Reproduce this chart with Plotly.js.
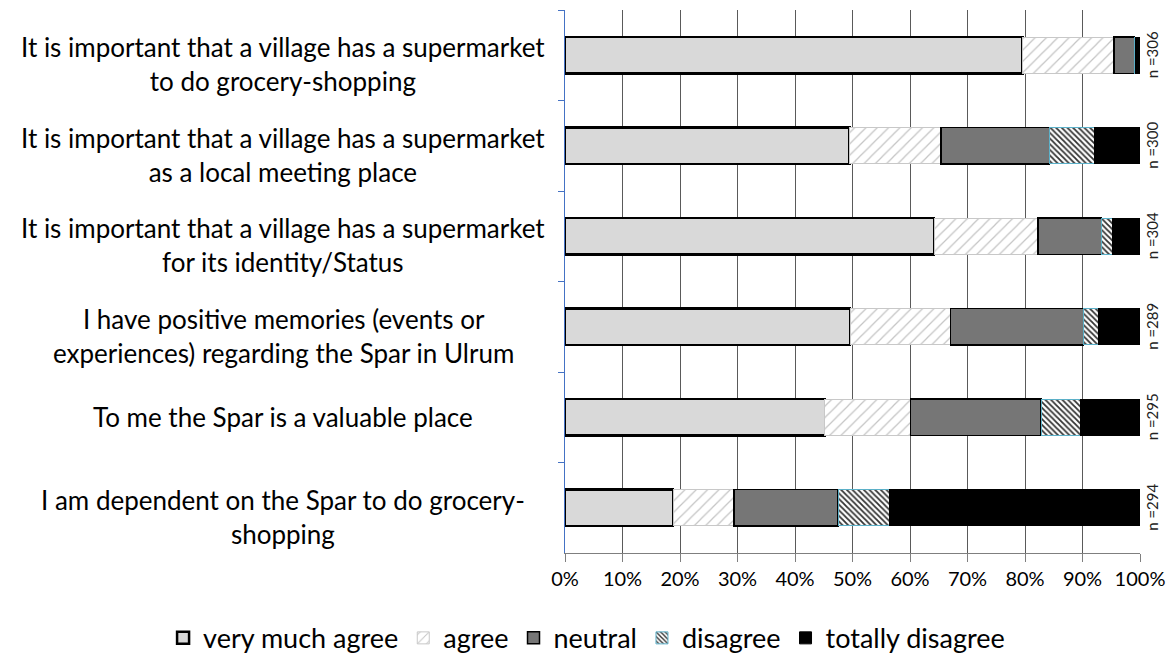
<!DOCTYPE html>
<html><head><meta charset="utf-8">
<script src="https://cdn.plot.ly/plotly-3.0.1.min.js"></script>
<style>html,body{margin:0;padding:0;background:#fff}#chart{width:1168px;height:655px}</style>
</head><body><div id="chart"></div>
<script>
const categories = [
  "It is important that a village has a supermarket<br>to do grocery-shopping",
  "It is important that a village has a supermarket<br>as a local meeting place",
  "It is important that a village has a supermarket<br>for its identity/Status",
  "I have positive memories (events or<br>experiences) regarding the Spar in Ulrum",
  "To me the Spar is a valuable place",
  "I am dependent on the Spar to do grocery-<br>shopping"
];
const sampleSizes = [306, 300, 304, 289, 295, 294];
const veryMuchAgree   = [79.6, 49.5, 64.2, 49.6, 45.2, 18.8];
const agree           = [15.9, 15.9, 18.1, 17.4, 14.9, 10.6];
const neutral         = [3.5, 18.9, 11.0, 23.2, 22.7, 18.1];
const disagree        = [0.3, 7.7, 2.0, 2.5, 6.9, 9.0];
const totallyDisagree = [0.7, 8.0, 4.7, 7.3, 10.3, 43.5];
const xTickVals = [0, 10, 20, 30, 40, 50, 60, 70, 80, 90, 100];
const seriesNames = ["very much agree", "agree", "neutral", "disagree", "totally disagree"];

const FONT = "Lato, 'Open Sans', sans-serif";
const styles = [
  {marker: {color: "#d9d9d9", line: {color: "#000", width: 2.5}}},
  {marker: {color: "#ffffff", pattern: {shape: "/", fgcolor: "#c4c4c4", bgcolor: "#ffffff", size: 8, solidity: 0.15}, line: {color: "#c8c8c8", width: 1}}},
  {marker: {color: "#767676", line: {color: "#000", width: 1.5}}},
  {marker: {color: "#ffffff", pattern: {shape: "\\", fgcolor: "#333333", bgcolor: "#ffffff", size: 4, solidity: 0.45}, line: {color: "#5bb0c8", width: 1}}},
  {marker: {color: "#000000", line: {color: "#000", width: 1}}}
];
const seriesValues = [veryMuchAgree, agree, neutral, disagree, totallyDisagree];

const traces = seriesValues.map((vals, i) => ({
  type: "bar", orientation: "h",
  name: seriesNames[i],
  x: vals, y: categories,
  marker: styles[i].marker,
  hoverinfo: "skip"
}));

const annotations = [];
categories.forEach((c, i) => {
  const lines = c.split("<br>").length;
  annotations.push({
    xref: "paper", yref: "y", x: -0.49, y: c,
    xanchor: "center", yanchor: "middle", align: "center",
    text: c, showarrow: false, yshift: lines > 1 ? -9 : 0,
    font: {family: FONT, size: 26, color: "#000"}
  });
  annotations.push({
    xref: "paper", yref: "y", x: 1.021, y: c,
    xanchor: "center", yanchor: "middle",
    text: "n =" + sampleSizes[i], textangle: -90, showarrow: false,
    font: {family: FONT, size: 15, color: "#222"}
  });
});

const layout = {
  width: 1168, height: 655,
  margin: {l: 565, r: 28, t: 10, b: 102, autoexpand: false},
  paper_bgcolor: "#fff", plot_bgcolor: "#fff",
  barmode: "stack", bargap: 0.6,
  showlegend: true,
  legend: {orientation: "h", x: -0.699, xanchor: "left", y: -0.112, yanchor: "top",
           font: {family: FONT, size: 27, color: "#000"}, traceorder: "normal"},
  xaxis: {range: [0, 100], tickvals: xTickVals, ticktext: xTickVals.map(v => v + "%"),
          showgrid: true, gridcolor: "#5a5a5a", gridwidth: 1, zeroline: false,
          showline: true, linecolor: "#7f7f7f", linewidth: 1,
          ticks: "outside", ticklen: 8, tickcolor: "#7f7f7f",
          tickfont: {family: FONT, size: 20, color: "#000"}, fixedrange: true},
  yaxis: {type: "category", categoryorder: "array", categoryarray: categories,
          autorange: "reversed", showticklabels: false, showgrid: false, zeroline: false,
          tickson: "boundaries", ticks: "outside", ticklen: 6, tickcolor: "#4472c4",
          showline: true, linecolor: "#4472c4", linewidth: 1.5, fixedrange: true},
  annotations: annotations
};

Plotly.newPlot("chart", traces, layout, {staticPlot: true, displayModeBar: false});
</script>
</body></html>
